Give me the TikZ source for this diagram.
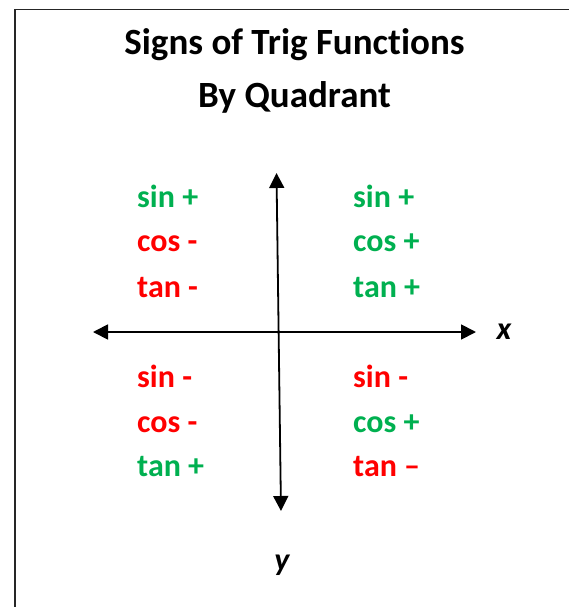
\documentclass[tikz,border=0pt]{standalone}
\usepackage{fontspec}
\setmainfont{Carlito}[Ligatures={TeX,NoCommon}]
\usepackage{tikz}
\usetikzlibrary{arrows.meta,positioning}

\definecolor{trigGreen}{RGB}{0,176,80}
\definecolor{trigRed}{RGB}{255,0,0}

\tikzset{
  sign/.style={anchor=base west, inner sep=0pt, font=\fontsize{32}{38}\selectfont\bfseries},
  heading/.style={anchor=base, inner sep=0pt, font=\fontsize{37}{44}\selectfont\bfseries},
  axislab/.style={anchor=base, inner sep=0pt, font=\fontsize{32}{38}\selectfont\bfseries\itshape},
  axis/.style={line width=1.8pt, {Triangle[length=15pt,width=15pt]}-{Triangle[length=15pt,width=15pt]}}
}

\begin{document}
\begin{tikzpicture}[x=1pt, y=-1pt]
  \useasboundingbox (0,0) rectangle (569,607);

  % frame (cut off at right and bottom)
  \draw[line width=1.8pt, black!85] (15,607) -- (15,9.5) -- (569,9.5);

  % Title
  \node[heading] (title) at (294.5,55) {Signs of Trig Functions};
  \node[heading] (subtitle) at (294.5,108) {By Quadrant};

  % Axes
  \coordinate (xl) at (93,332);
  \coordinate (xr) at (476,332);
  \coordinate (yt) at (276.5,173);
  \coordinate (yb) at (281,511);
  \draw[axis] (xl) -- (xr);
  \draw[axis] (yt) -- (yb);
  \node[axislab] (xlab) at (504,339) {x};
  \node[axislab] (ylab) at (282,570) {y};

  % Signs in each quadrant
  \foreach \nm/\x/\y/\col/\txt in {
    q2sin/137/207/trigGreen/{sin +}, q2cos/137/251/trigRed/{cos -}, q2tan/137/297/trigRed/{tan -},
    q1sin/353/207/trigGreen/{sin +}, q1cos/353/251/trigGreen/{cos +}, q1tan/353/297/trigGreen/{tan +},
    q3sin/137/387/trigRed/{sin -}, q3cos/137/432/trigRed/{cos -}, q3tan/137/476/trigGreen/{tan +},
    q4sin/353/387/trigRed/{sin -}, q4cos/353/432/trigGreen/{cos +}, q4tan/353/476/trigRed/{tan –}} {
    \node[sign, text=\col] (\nm) at (\x,\y) {\txt};
  }
\end{tikzpicture}
\end{document}
